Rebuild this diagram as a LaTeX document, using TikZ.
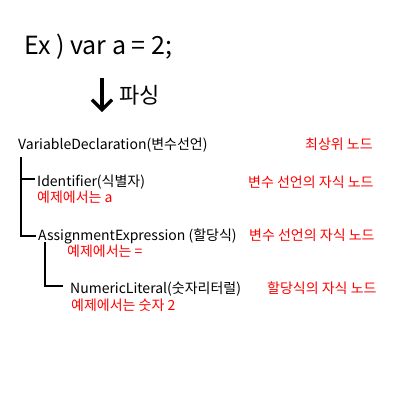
\documentclass[tikz,border=0pt]{standalone}
\usepackage{fontspec}
\setmainfont{Noto Sans CJK KR}
\usetikzlibrary{arrows.meta}
\definecolor{lbl}{RGB}{255,0,0}
\tikzset{
  tn/.style={anchor=base west, inner sep=0pt, font=\fontsize{14}{16}\selectfont, text=black},
  rn/.style={anchor=base west, inner sep=0pt, font=\fontsize{14}{16}\selectfont, text=lbl},
  br/.style={draw=black, line width=1.2pt},
}
\begin{document}
\begin{tikzpicture}[x=1pt,y=-1pt]
\useasboundingbox[fill=white] (0,0) rectangle (400,400);
\node[anchor=base west, inner sep=0pt, font=\fontsize{25}{28}\selectfont] (ex) at (24,54) {Ex ) var a = 2;};
\coordinate (at) at (102,78);
\coordinate (ab) at (102,112);
\draw[line width=3.2pt, -{Straight Barb[length=10pt,width=20pt,line width=3.2pt]}] (at) -- (ab);
\node[anchor=base west, inner sep=0pt, font=\fontsize{22}{24}\selectfont] (ps) at (119,103) {파싱};
\node[tn] (vd) at (18,149) {VariableDeclaration(변수선언)};
\node[tn] (id) at (37,186) {Identifier(식별자)};
\node[rn] (idx) at (37,202) {예제에서는 a};
\node[tn] (ae) at (38,240) {AssignmentExpression (할당식)};
\node[rn] (aex) at (67,256) {예제에서는 =};
\node[tn] (nl) at (70,293) {NumericLiteral(숫자리터럴)};
\node[rn] (nlx) at (71,310) {예제에서는 숫자 2};
\node[rn] (r1) at (305,149) {최상위 노드};
\node[rn] (r2) at (248,187) {변수 선언의 자식 노드};
\node[rn] (r3) at (249,240) {변수 선언의 자식 노드};
\node[rn] (r4) at (267,293) {할당식의 자식 노드};
\coordinate (v1t) at (21,157);
\coordinate (v1b) at (21,236);
\coordinate (h1) at (21,179);
\coordinate (h1e) at (35,179);
\coordinate (h2e) at (36,236);
\coordinate (v2t) at (45,242);
\coordinate (v2b) at (45,286);
\coordinate (h3e) at (63,286);
\draw[br] (v1t) -- (v1b) -- (h2e);
\draw[br] (h1) -- (h1e);
\draw[br] (v2t) -- (v2b) -- (h3e);
\end{tikzpicture}
\end{document}
